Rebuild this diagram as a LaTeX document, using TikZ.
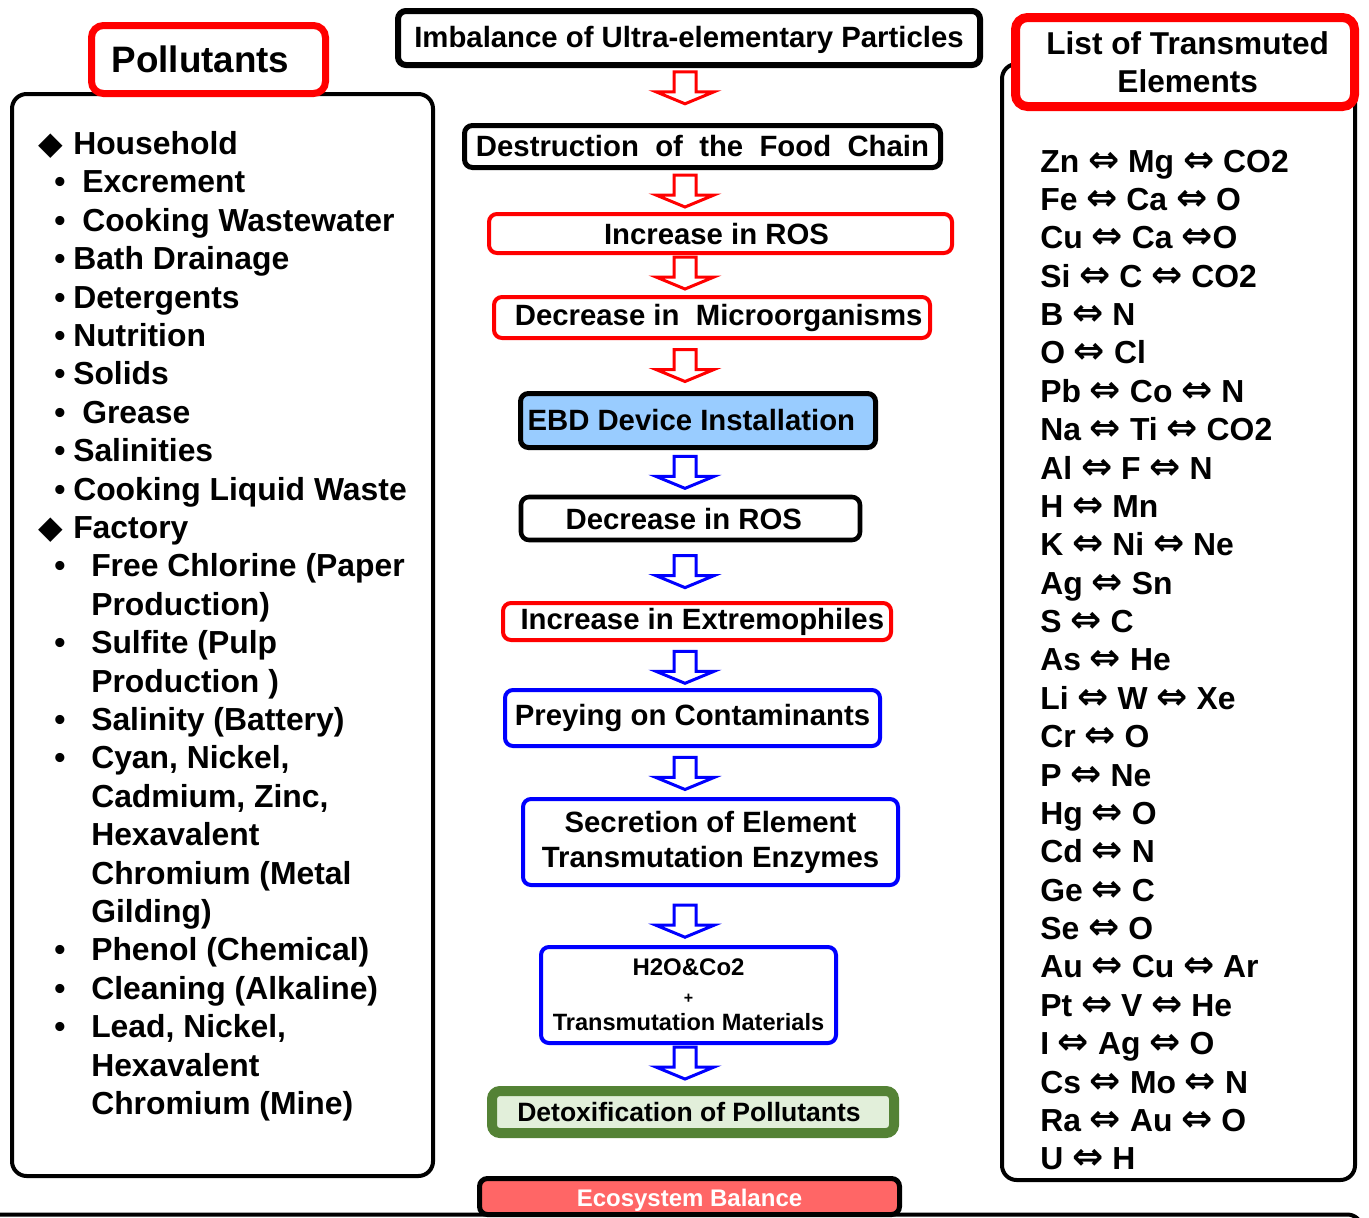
\documentclass[tikz,border=0pt]{standalone}
\usepackage{fontspec}
\setmainfont{Liberation Sans}
\newfontfamily\symfont{DejaVu Sans}
\usetikzlibrary{calc}
\definecolor{ebdblue}{HTML}{99CCFF}
\definecolor{dgreen}{HTML}{548235}
\definecolor{lgreen}{HTML}{E2EFDA}
\definecolor{ecored}{HTML}{FF6666}
\newcommand\dblarrow{{\symfont\fontsize{28}{28}\selectfont ⇔}}
\newcommand\diamglyph{{\symfont\fontsize{24}{24}\selectfont ◆}}
\begin{document}
\begin{tikzpicture}[x=0.75pt,y=-0.75pt,
  flowbox/.style={draw, rounded corners=6pt, fill=white, inner sep=0pt, align=center, font=\bfseries\fontsize{22}{26.25}\selectfont},
  bigbox/.style={draw, line width=3pt, rounded corners=11pt, inner sep=0pt},
  titlebox/.style={draw=red, fill=white, rounded corners=9pt, inner sep=0pt, align=center},
  litem/.style={anchor=base west, inner sep=0pt, font=\bfseries\fontsize{23.9}{28}\selectfont},
  ritem/.style={anchor=base west, inner sep=0pt, font=\bfseries\fontsize{23.9}{28}\selectfont},
  hollow/.pic={\path[line width=2.25pt, fill=white, line join=miter, pic actions]
     (-11,-16) -- (11,-16) -- (11,4) -- (29,4) -- (0,16) -- (-29,4) -- (-11,4) -- cycle;}]
\useasboundingbox (0,0) rectangle (1369,1217);
\clip (0,0) rectangle (1369,1217);

% containers
\node[bigbox, minimum width=315.75pt, minimum height=811.5pt] (lbox) at (222.5,635) {};
\node[bigbox, minimum width=264.75pt, minimum height=837pt] (rbox) at (1178.5,622) {};

% titles
\node[titlebox, line width=5.25pt, minimum width=175.5pt, minimum height=51pt,
      font=\bfseries\fontsize{27.6}{32}\selectfont] (ptitle) at (208.5,59.5) {Pollutants\hspace{12pt}};
\node[titlebox, line width=6.75pt, minimum width=254.25pt, minimum height=66.75pt,
      font=\bfseries\fontsize{23.7}{28.5}\selectfont] (ltitle) at (1185,62) {\hspace{4pt}List of Transmuted\\\hspace{4pt}Elements};

% flow boxes
\node[flowbox, line width=4.5pt, minimum width=436.5pt, minimum height=40.5pt, text height=14.3pt, text depth=0pt] (imb) at (689,38) {Imbalance of Ultra-elementary Particles};
\node[flowbox, line width=3.75pt, minimum width=357pt, minimum height=31.5pt] (dest) at (702.5,146.5) {Destruction~~of~~the~~Food~~Chain};
\node[flowbox, draw=red, line width=3pt, minimum width=347.25pt, minimum height=29.25pt, text height=17pt, text depth=0pt] (ros) at (720.5,233.5) {Increase in ROS\hspace{6pt}};
\node[flowbox, draw=red, line width=3pt, minimum width=327pt, minimum height=30.75pt] (micro) at (712,317.5) {\hspace{10pt}Decrease in~~Microorganisms};
\node[flowbox, fill=ebdblue, line width=3.75pt, minimum width=266.25pt, minimum height=40.5pt] (ebd) at (698,420.5) {EBD Device Installation\hspace{10pt}};
\node[flowbox, line width=3.4pt, minimum width=254.25pt, minimum height=32.25pt, text height=17pt, text depth=0pt] (decros) at (690.5,518.5) {Decrease in ROS\hspace{10pt}};
\node[flowbox, draw=red, line width=3pt, minimum width=291pt, minimum height=27.75pt] (extrem) at (697,621.5) {\hspace{8pt}Increase in Extremophiles};
\node[flowbox, draw=blue, line width=3pt, minimum width=281.25pt, minimum height=42pt] (prey) at (692.5,718) {Preying on Contaminants};
\node[flowbox, draw=blue, line width=3pt, minimum width=281.25pt, minimum height=64.5pt] (secr) at (710.5,842) {Secretion of Element\\Transmutation Enzymes};
\node[flowbox, draw=blue, line width=3pt, minimum width=221.25pt, minimum height=72pt,
      font=\bfseries\fontsize{18}{20.6}\selectfont] (h2o) at (688.5,995)
      {H2O\&Co2\\{\fontsize{12}{20.6}\selectfont +}\\{\fontsize{17.7}{20.6}\selectfont Transmutation Materials}};
\node[flowbox, draw=dgreen, fill=lgreen, line width=7.5pt, minimum width=301.5pt, minimum height=31.5pt,
      font=\bfseries\fontsize{19.9}{24}\selectfont] (detox) at (693,1112) {Detoxification of Pollutants\hspace{6pt}};
\node[flowbox, fill=ecored, line width=3.75pt, minimum width=315pt, minimum height=27pt, text=white,
      text height=15.1pt, text depth=0pt,
      font=\bfseries\fontsize{18}{22}\selectfont] (eco) at (689.5,1196.5) {Ecosystem Balance};
\draw[line width=3pt, rounded corners=11pt] (-5,1214.5) -- (1362,1214.5) -- (1362,1260);

% hollow block arrows
\coordinate (ax) at (685,0);
\foreach \a/\b/\c/\f [count=\i] in {imb/dest/red/0.36, dest/ros/red/0.5, ros/micro/red/0.45, micro/ebd/red/0.5,
    ebd/decros/blue/0.5, decros/extrem/blue/0.5, extrem/prey/blue/0.55, prey/secr/blue/0.52,
    secr/h2o/blue/0.59, h2o/detox/blue/0.44}{
  \coordinate (m\i) at ($(\a.south)!\f!(\b.north)$);
  \pic[draw=\c] at (ax |- m\i) {hollow};
}

% left list
\foreach \i/\x/\t in {0/73/Household, 1/82/Excrement, 2/82/Cooking Wastewater, 3/73/Bath Drainage,
   4/73/Detergents, 5/73/Nutrition, 6/73/Solids, 7/82/Grease, 8/73/Salinities, 9/73/Cooking Liquid Waste,
   10/73/Factory, 11/91/Free Chlorine (Paper, 12/91/Production), 13/91/Sulfite (Pulp, 14/91/Production ),
   15/91/Salinity (Battery), 16/91/{Cyan, Nickel,}, 17/91/{Cadmium, Zinc,}, 18/91/Hexavalent,
   19/91/Chromium (Metal, 20/91/Gilding), 21/91/Phenol (Chemical), 22/91/Cleaning (Alkaline),
   23/91/{Lead, Nickel,}, 24/91/Hexavalent, 25/91/Chromium (Mine)}{
  \node[litem] (L\i) at (\x,{154.5+38.4*\i}) {\t};
}
\foreach \i in {0,10}{
  \node[litem] (D\i) at (38,{154.5+38.4*\i}) {\diamglyph};
}
\foreach \i in {1,2,3,4,5,6,7,8,9,11,13,15,16,21,22,23}{
  \node[litem] (B\i) at (54,{154.5+38.4*\i}) {•};
}

% right list
\foreach \t [count=\i from 0] in {Zn \dblarrow{} Mg \dblarrow{} CO2, Fe \dblarrow{} Ca \dblarrow{} O,
   Cu \dblarrow{} Ca \dblarrow{}O, Si \dblarrow{} C \dblarrow{} CO2, B \dblarrow{} N, O \dblarrow{} Cl,
   Pb \dblarrow{} Co \dblarrow{} N, Na \dblarrow{} Ti \dblarrow{} CO2, Al \dblarrow{} F \dblarrow{} N,
   H \dblarrow{} Mn, K \dblarrow{} Ni \dblarrow{} Ne, Ag \dblarrow{} Sn, S \dblarrow{} C, As \dblarrow{} He,
   Li \dblarrow{} W \dblarrow{} Xe, Cr \dblarrow{} O, P \dblarrow{} Ne, Hg \dblarrow{} O, Cd \dblarrow{} N,
   Ge \dblarrow{} C, Se \dblarrow{} O, Au \dblarrow{} Cu \dblarrow{} Ar, Pt \dblarrow{} V \dblarrow{} He,
   I \dblarrow{} Ag \dblarrow{} O, Cs \dblarrow{} Mo \dblarrow{} N, Ra \dblarrow{} Au \dblarrow{} O,
   U \dblarrow{} H}{
  \node[ritem] (R\i) at (1040,{172+38.38*\i}) {\t};
}
\end{tikzpicture}
\end{document}
